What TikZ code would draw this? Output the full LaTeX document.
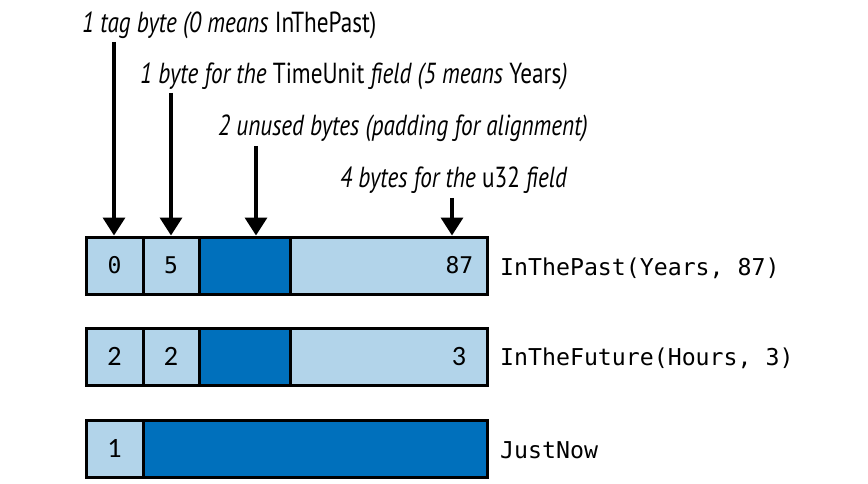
\documentclass[tikz,border=0pt]{standalone}
\usepackage{fontspec}
\usetikzlibrary{arrows.meta}
\newfontfamily\lblfont[FakeStretch=0.8]{PT Sans}
\newfontfamily\monofont{DejaVu Sans Mono}
\newfontfamily\digfont{Carlito}
\definecolor{light}{RGB}{178,212,234}
\definecolor{dark}{RGB}{0,112,188}
\tikzset{
  cell/.style={draw=black, line width=3pt, inner sep=0pt, minimum height=57pt},
  lightcell/.style={cell, fill=light},
  darkcell/.style={cell, fill=dark},
  celltext/.style={font=\monofont\fontsize{23}{23}\selectfont},
  celldig/.style={font=\digfont\fontsize{28}{28}\selectfont},
  caption/.style={anchor=west, inner sep=0pt, font=\monofont\fontsize{23.2}{23}\selectfont},
  lbl/.style={anchor=base west, inner sep=0pt, font=\lblfont\fontsize{29}{29}\selectfont},
  arr/.style={line width=3.5pt, -{Triangle[width=22pt,length=18pt]}}
}
\begin{document}
\begin{tikzpicture}[x=1pt,y=-1pt]
\useasboundingbox[fill=white] (0,0) rectangle (868,484);
% row 1
\node[lightcell, minimum width=57pt, celltext] (a1) at (114.5,265.5) {0};
\node[lightcell, minimum width=56pt, celltext] (a2) at (171,265.5) {5};
\node[darkcell, minimum width=91pt] (a3) at (244.5,265.5) {};
\node[lightcell, minimum width=197pt] (a4) at (388.5,265.5) {};
\node[celltext, anchor=east, inner sep=0pt] (v4) at ([xshift=-15pt]a4.east) {87};
\node[caption] (n1) at (500,268) {InThePast(Years, 87)};
% row 2
\node[lightcell, minimum width=57pt, celldig] (b1) at (114.5,356.5) {2};
\node[lightcell, minimum width=56pt, celldig] (b2) at (171,356.5) {2};
\node[darkcell, minimum width=91pt] (b3) at (244.5,356.5) {};
\node[lightcell, minimum width=197pt] (b4) at (388.5,356.5) {};
\node[celldig, inner sep=0pt] (w4) at (459,356.5) {3};
\node[caption] (n2) at (500,358) {InTheFuture(Hours, 3)};
% row 3
\node[lightcell, minimum width=57pt, celldig] (c1) at (114.5,448.5) {1};
\node[darkcell, minimum width=344pt] (c2) at (315,448.5) {};
\node[caption] (n3) at (500,450) {JustNow};
% labels
\node[lbl] (l1) at (82,33) {\itshape 1 tag byte (0 means \upshape InThePast\upshape)};
\node[lbl] (l2) at (140,84) {\itshape 1 byte for the \upshape TimeUnit \itshape field (5 means \upshape Years\itshape)};
\node[lbl] (l3) at (218,136) {\itshape 2 unused bytes (padding for alignment)};
\node[lbl] (l4) at (340,188) {\itshape 4 bytes for the \upshape u32 \itshape field};
% arrows
\coordinate (t1) at (114,42);
\coordinate (t2) at (171,93);
\coordinate (t3) at (256,146);
\coordinate (t4) at (452,198);
\draw[arr] (t1) -- (t1 |- a1.north);
\draw[arr] (t2) -- (t2 |- a2.north);
\draw[arr] (t3) -- (t3 |- a3.north);
\draw[arr] (t4) -- (t4 |- a4.north);
\end{tikzpicture}
\end{document}
